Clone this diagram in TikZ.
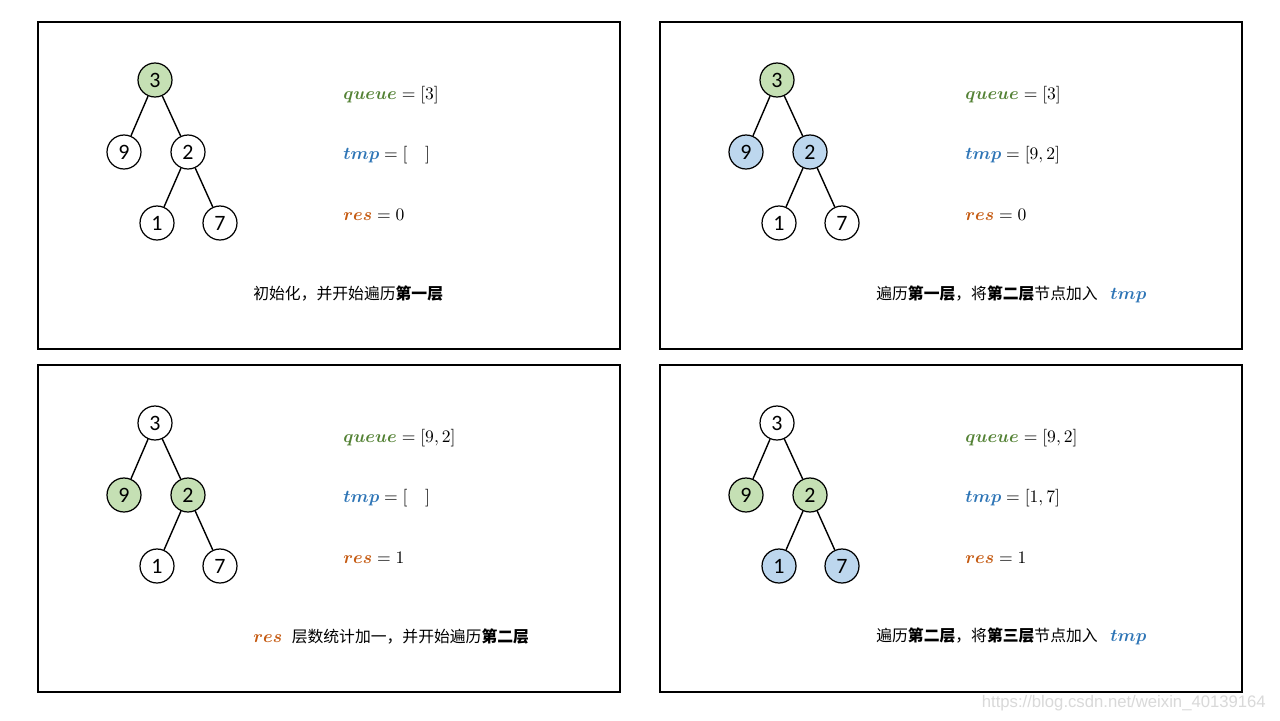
\documentclass[tikz,border=0pt]{standalone}
\usepackage{amsmath}
\usepackage{bm}
\usepackage{fontspec}
\newfontfamily\numfont{Carlito}
\newfontfamily\cjk{Noto Sans CJK SC}
\newfontfamily\wmfont{Liberation Sans}
\usetikzlibrary{positioning}

\definecolor{qgreen}{HTML}{548235}
\definecolor{tblue}{HTML}{2E75B6}
\definecolor{rorange}{HTML}{C55A11}
\definecolor{fgreen}{HTML}{C5E0B4}
\definecolor{fblue}{HTML}{BDD7EE}

\newcommand{\qv}{\textcolor{qgreen}{\bm{queue}}}
\newcommand{\tv}{\textcolor{tblue}{\bm{tmp}}}
\newcommand{\rv}{\textcolor{rorange}{\bm{res}}}

% one tree, #1 = prefix, #2 root fill, #3 second level, #4 third level
\newcommand{\bintree}[4]{%
  \node[tnode, fill=#2] (#1-3) at (117,58)  {3};
  \node[tnode, fill=#3] (#1-9) at (86,130)  {9};
  \node[tnode, fill=#3] (#1-2) at (150,130) {2};
  \node[tnode, fill=#4] (#1-1) at (119,201) {1};
  \node[tnode, fill=#4] (#1-7) at (182,201) {7};
  \draw[edge] (#1-3) -- (#1-9);
  \draw[edge] (#1-3) -- (#1-2);
  \draw[edge] (#1-2) -- (#1-1);
  \draw[edge] (#1-2) -- (#1-7);
}

\begin{document}
\begin{tikzpicture}[
    x=0.02cm, y=-0.02cm,
    frame/.style={draw, line width=1pt},
    tnode/.style={draw, circle, line width=0.7pt, minimum size=0.68cm, inner sep=0pt, font=\numfont\fontsize{12.5}{14}\selectfont},
    edge/.style={line width=0.8pt},
    var/.style={anchor=west, inner sep=0pt, font=\fontsize{10}{12}\selectfont},
    caption/.style={anchor=west, inner sep=0pt, font=\cjk\fontsize{9}{11}\selectfont}
]
\useasboundingbox[fill=white] (0,0) rectangle (1280,720);

% step 1
\begin{scope}[shift={(38,22)}]
  \draw[frame] (0,0) rectangle (582,327);
  \bintree{a}{fgreen}{white}{white}
  \node[var] (a-q) at (305,73)  {$\qv = [3]$};
  \node[var] (a-t) at (305,133) {$\tv = [\quad]$};
  \node[var] (a-r) at (305,193) {$\rv = 0$};
  \node[caption] (a-c) at (215,272) {初始化，并开始遍历\textbf{第一层}};
\end{scope}

% step 2
\begin{scope}[shift={(660,22)}]
  \draw[frame] (0,0) rectangle (582,327);
  \bintree{b}{fgreen}{fblue}{white}
  \node[var] (b-q) at (305,73)  {$\qv = [3]$};
  \node[var] (b-t) at (305,133) {$\tv = [9,2]$};
  \node[var] (b-r) at (305,193) {$\rv = 0$};
  \node[caption] (b-c) at (216,272) {遍历\textbf{第一层}，将\textbf{第二层}节点加入\hspace{0.8em}{\fontsize{10}{12}\selectfont$\tv$}};
\end{scope}

% step 3
\begin{scope}[shift={(38,365)}]
  \draw[frame] (0,0) rectangle (582,327);
  \bintree{c}{white}{fgreen}{white}
  \node[var] (c-q) at (305,73)  {$\qv = [9,2]$};
  \node[var] (c-t) at (305,133) {$\tv = [\quad]$};
  \node[var] (c-r) at (305,193) {$\rv = 1$};
  \node[caption] (c-c) at (215,271) {{\fontsize{10}{12}\selectfont$\rv$}\hspace{0.6em}层数统计加一，并开始遍历\textbf{第二层}};
\end{scope}

% step 4
\begin{scope}[shift={(660,365)}]
  \draw[frame] (0,0) rectangle (582,327);
  \bintree{d}{white}{fgreen}{fblue}
  \node[var] (d-q) at (305,73)  {$\qv = [9,2]$};
  \node[var] (d-t) at (305,133) {$\tv = [1,7]$};
  \node[var] (d-r) at (305,193) {$\rv = 1$};
  \node[caption] (d-c) at (216,271) {遍历\textbf{第二层}，将\textbf{第三层}节点加入\hspace{0.8em}{\fontsize{10}{12}\selectfont$\tv$}};
\end{scope}

\node[anchor=east, text=black!15, font=\wmfont\fontsize{9.5}{11}\selectfont] (mark) at (1272,703) {https://blog.csdn.net/weixin\_40139164};
\end{tikzpicture}
\end{document}
